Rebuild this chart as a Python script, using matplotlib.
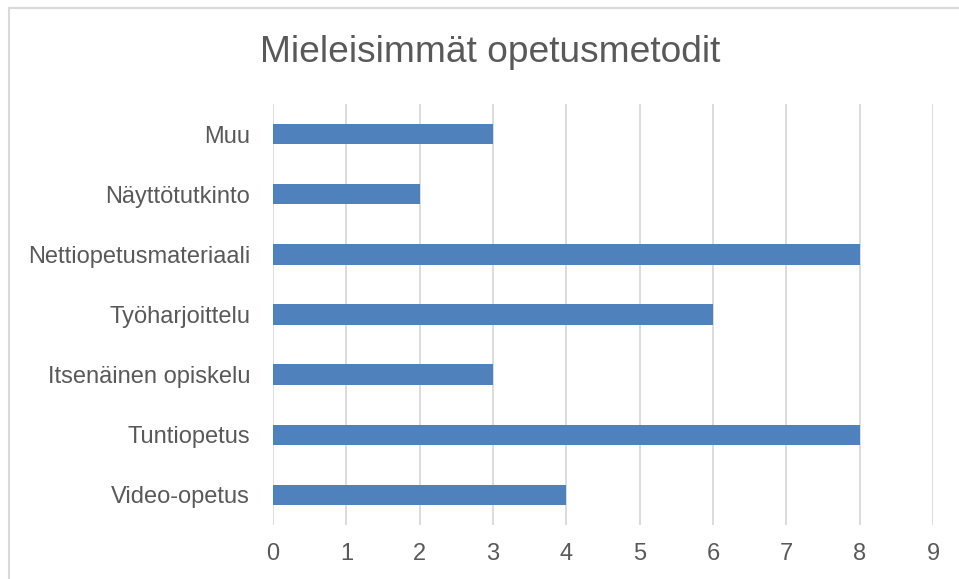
import matplotlib
matplotlib.use("Agg")
import matplotlib.pyplot as plt
from matplotlib.lines import Line2D

categories = ["Video-opetus", "Tuntiopetus", "Itsenäinen opiskelu", "Työharjoittelu",
              "Nettiopetusmateriaali", "Näyttötutkinto", "Muu"]
values = [4, 8, 3, 6, 8, 2, 3]
xticks = [0, 1, 2, 3, 4, 5, 6, 7, 8, 9]

plt.rcParams['font.family'] = ['Liberation Sans', 'DejaVu Sans']
W, H = 959, 579
fig = plt.figure(figsize=(W / 100, H / 100), dpi=100)
ax = fig.add_axes([273 / W, 1 - 525 / H, (933 - 273) / W, (525 - 104) / H])

txt = '#595959'
ax.barh(range(len(categories)), values, height=0.34, color='#4F81BD', zorder=3)
ax.set_xlim(0, 9)
ax.set_ylim(-0.5, len(categories) - 0.5)
ax.set_xticks(xticks)
ax.set_xticklabels([str(t) for t in xticks])
ax.set_yticks(range(len(categories)))
ax.set_yticklabels(categories)
ax.tick_params(axis='both', length=0, labelsize=17, colors=txt)
ax.tick_params(axis='y', pad=16.5)
ax.tick_params(axis='x', pad=13)
ax.grid(axis='x', color='#D9D9D9', linewidth=1.3, zorder=0)
for s in ax.spines.values():
    s.set_visible(False)

fig.text(490 / W, 1 - 52 / H, "Mieleisimmät opetusmetodit", ha='center', va='center',
         fontsize=26.7, color=txt)

border = '#D9D9D9'
fig.lines.append(Line2D([8.5 / W, 1.0], [1 - 7.5 / H, 1 - 7.5 / H], transform=fig.transFigure,
                        color=border, linewidth=1.5))
fig.lines.append(Line2D([8.5 / W, 8.5 / W], [0, 1 - 7.5 / H], transform=fig.transFigure,
                        color=border, linewidth=1.5))

fig.savefig("out.png", dpi=100)
